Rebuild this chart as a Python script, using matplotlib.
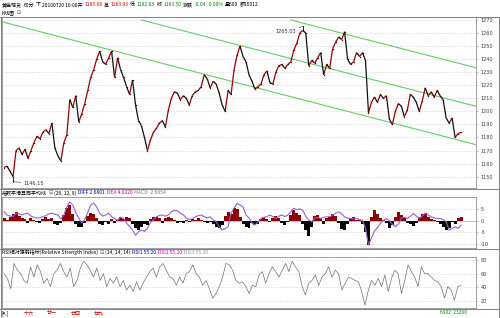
import numpy as np
import matplotlib
matplotlib.use("Agg")
import matplotlib.pyplot as plt
from matplotlib.lines import Line2D
from matplotlib.collections import LineCollection

plt.rcParams['font.family'] = ['Noto Sans CJK SC', 'DejaVu Sans']

# ---------------- data ----------------
closes = [1157, 1158, 1154, 1150, 1170, 1172, 1167, 1171, 1164, 1170,
          1176, 1181, 1179, 1184, 1186, 1183, 1191, 1172, 1166, 1162,
          1176, 1182, 1209, 1203, 1212, 1192, 1198, 1206, 1216, 1226,
          1232, 1240, 1246, 1238, 1236, 1241, 1246, 1226, 1241, 1232,
          1226, 1219, 1213, 1224, 1205, 1193, 1189, 1180, 1170, 1178,
          1184, 1187, 1191, 1193, 1188, 1201, 1210, 1215, 1214, 1209,
          1212, 1210, 1205, 1212, 1215, 1216, 1219, 1228, 1225, 1218,
          1223, 1221, 1214, 1205, 1200, 1216, 1213, 1232, 1243, 1250,
          1242, 1238, 1228, 1223, 1217, 1219, 1221, 1228, 1231, 1222,
          1221, 1230, 1235, 1236, 1233, 1236, 1238, 1247, 1252, 1260,
          1262, 1260, 1235, 1239, 1237, 1241, 1245, 1228, 1236, 1233,
          1248, 1253, 1257, 1255, 1261, 1240, 1236, 1238, 1245, 1242,
          1245, 1239, 1199, 1207, 1211, 1207, 1213, 1210, 1212, 1194,
          1190, 1200, 1206, 1204, 1196, 1201, 1213, 1211, 1207, 1200,
          1208, 1218, 1212, 1215, 1211, 1216, 1212, 1209, 1195, 1191,
          1195, 1180, 1183, 1184]

high_label = 1265.03
low_label = 1146.15

macd_hist = [1.0, 0.5, 1.5, 3.0, 3.8, 2.0, 1.0, 0.8, -0.8, 1.0,
             0.5, -0.5, -1.0, 0.8, 1.5, 0.8, 1.2, -1.5, -1.8, -0.8,
             2.5, 5.5, 7.0, 3.0, -1.5, -2.8, -2.5, -0.8, 2.0, 3.5,
             2.8, 1.2, -1.5, -1.8, -0.5, -1.2, 0.8, -1.0, 0.5, 1.5,
             0.8, 1.8, 1.2, -1.5, -3.0, -3.8, -2.5, -1.5, -2.0, 0.8,
             1.5, 1.8, 1.0, -0.8, 1.2, 1.8, 1.0, 0.5, -0.8, -0.5,
             -1.0, 0.5, -0.6, 0.8, 0.5, 1.0, 0.5, -0.6, -1.0, -0.5,
             -1.5, -2.5, -3.0, -2.0, 2.0, 4.0, 3.0, 5.5, 5.0, 1.5,
             -1.5, -2.5, -3.0, -1.0, -2.0, -1.2, 0.8, 1.8, 0.8, -0.5,
             1.0, 2.2, 1.2, -0.8, -1.8, -0.5, 2.5, 4.5, 3.5, 2.5,
             -1.5, -4.0, -6.5, -2.5, 2.0, 2.5, 1.0, -1.5, 1.2, 1.5,
             2.8, 2.0, -1.0, -3.5, -4.0, -1.5, 1.2, 1.5, 0.5, 0.3,
             -1.5, -5.0, -10.5, 1.5, 4.5, 3.0, 1.2, 0.5, -1.0, -3.2,
             -2.0, 1.5, 4.0, 2.5, 1.0, -0.8, -1.5, -2.2, -1.0, 1.0,
             3.0, 3.5, 1.5, 0.8, 0.5, -0.5, -1.2, -2.5, -4.0, -3.2,
             -0.5, -1.5, 1.0, 1.5]

diff_line = [3.9, 2.5, 2.0, 1.8, 3.3, 3.0, 2.5, 3.0, 3.3, 2.0,
             1.5, 1.2, 1.2, 1.8, 2.2, 3.0, 3.3, 2.8, 2.5, 0.8,
             2.5, 6.0, 8.2, 6.8, 3.5, 1.2, -1.0, 0.5, 3.5, 6.8,
             7.6, 6.0, 3.3, 2.0, 2.5, 3.3, 1.7, 1.0, 0.3, 1.5,
             1.0, -1.0, -2.5, -4.0, -6.2, -4.8, -4.0, -4.6, -3.2, -0.8,
             0.5, 1.7, 2.3, 2.5, 2.0, 2.5, 3.9, 4.5, 4.3, 3.3,
             2.5, 1.2, 0.6, 0.8, 1.7, 2.2, 2.5, 1.8, 1.2, 1.7,
             0.5, -0.4, -2.5, -4.0, -3.5, -2.5, 3.3, 5.5, 7.5, 6.8,
             6.0, 2.5, 1.2, -1.0, -1.8, -0.5, 1.0, 1.5, 1.8, 2.5,
             1.8, 1.0, 2.0, 2.5, 1.8, 2.5, 3.9, 5.4, 4.8, 5.2,
             4.5, 2.0, 0.3, -0.4, 1.2, 1.5, 1.0, 1.5, 1.7, 1.8,
             2.5, 3.2, 3.9, 3.0, 1.7, 1.2, 1.0, 0.8, 1.0, 0.5,
             0.3, -3.3, -10.5, -7.5, -4.5, -3.0, -1.1, 0.2, 1.0, 0.0,
             -1.5, -2.6, -1.5, 1.2, 1.5, 1.0, 2.0, 3.2, 2.0, 1.2,
             2.0, 3.2, 2.5, 1.7, 1.2, 1.0, 1.0, 0.5, -0.4, -4.0,
             -3.3, -2.6, -3.3, -1.9]

rsi = [60, 53, 38, 75, 65, 60, 50, 46, 70, 55,
       73, 63, 46, 53, 41, 60, 65, 75, 63, 55,
       68, 41, 50, 68, 78, 73, 65, 55, 68, 50,
       60, 41, 53, 46, 55, 41, 50, 36, 43, 34,
       48, 36, 46, 55, 63, 68, 55, 70, 75, 65,
       55, 53, 43, 55, 46, 60, 63, 73, 60, 55,
       43, 50, 38, 24, 31, 41, 55, 75, 73, 65,
       50, 46, 48,
       41, 31, 43, 41, 58, 63, 46, 60, 70, 63,
       55, 65, 75, 63, 78, 70, 63, 41, 29, 46,
       50, 58, 43, 55, 60, 70, 55, 65, 60, 36,
       46, 55, 53, 50, 48, 34, 14, 36, 50, 43,
       53, 41, 58, 34, 53, 65, 60, 31, 50, 73,
       63, 55, 41, 70, 60, 60, 55, 50, 48, 41,
       24, 41, 36, 21, 41, 43]

price_ticks = [1150, 1160, 1170, 1180, 1190, 1200, 1210, 1220, 1230, 1240, 1250, 1260, 1270]
macd_ticks = [5, 0, -5, -10]
rsi_ticks = [20, 40, 60, 80]

# trend channel: (start index, start price, end index, end price)
trend_lines = [(-1, 1268.8, 158, 1174.5),
               (46, 1270.0, 158, 1203.9),
               (96, 1270.0, 158, 1233.4)]

lunar_labels = ['十六', '廿一', '廿四', '廿九']

# ---------------- figure ----------------
W, H = 500, 318
fig = plt.figure(figsize=(W / 100, H / 100), dpi=100)
fig.patch.set_facecolor('white')


def box(x0, y0, x1, y1):
    return [x0 / W, 1 - y1 / H, (x1 - x0) / W, (y1 - y0) / H]


def fy(y):
    return 1 - y / H


n = len(closes)
idx = np.arange(n)
xlim = (-0.7, 158)
GRID = '#c8c8c8'
SPINE = '#909090'
TICKC = '#404040'
TFS = 3.6


def style(ax, ticks, labels, ylim):
    ax.set_xlim(*xlim)
    ax.set_ylim(*ylim)
    ax.set_xticks([])
    ax.yaxis.tick_right()
    ax.set_yticks(ticks)
    ax.set_yticklabels(labels, fontsize=TFS, color=TICKC, family='DejaVu Sans')
    ax.tick_params(axis='y', length=1.5, width=0.4, pad=2, colors=SPINE, labelcolor=TICKC)
    for t in ticks:
        ax.axhline(t, color=GRID, lw=0.5, ls=(0, (1, 1.5)), zorder=0)
    for s in ax.spines.values():
        s.set_color(SPINE)
        s.set_linewidth(0.6)


# main price panel
ax = fig.add_axes(box(2, 17, 476, 188))
style(ax, price_ticks, [str(t) for t in price_ticks], (1141.3, 1272.3))
c = np.array(closes, dtype=float)
pts = np.column_stack([idx, c])
segs = np.stack([pts[:-1], pts[1:]], axis=1)
seg_up = c[1:] >= c[:-1]
lc = LineCollection(segs, colors=np.where(seg_up, '#9a0000', '#111111'), linewidths=0.9, zorder=3)
ax.add_collection(lc)
ax.plot(idx, c, ls='none', marker='s', ms=0.9, mew=0, color='#5a0000', zorder=4)
for (i0, p0, i1, p1) in trend_lines:
    ax.plot([i0, i1], [p0, p1], color='#66cc66', lw=0.8, zorder=1)

imax = int(np.argmax(c))
imin = int(np.argmin(c))
ax.plot([imax, imax], [c[imax], high_label], color='black', lw=0.6, zorder=3)
ax.plot([imin, imin], [low_label, c[imin]], color='black', lw=0.6, zorder=3)
ax.annotate(f'{high_label:.2f}', xy=(imax, high_label), xytext=(imax - 2.2, high_label - 3.5),
            fontsize=TFS, color='#303030', ha='right', va='center', family='DejaVu Sans',
            arrowprops=dict(arrowstyle='-', color='#303030', lw=0.4, shrinkA=0, shrinkB=0))
ax.annotate(f'{low_label:.2f}', xy=(imin, low_label), xytext=(imin + 3.5, low_label - 1.5),
            fontsize=TFS, color='#303030', ha='left', va='center', family='DejaVu Sans',
            arrowprops=dict(arrowstyle='-', color='#303030', lw=0.4, shrinkA=0, shrinkB=0))

# MACD panel
ax2 = fig.add_axes(box(2, 197, 476, 248))
style(ax2, macd_ticks, [str(t) for t in macd_ticks], (-11.8, 10.3))
h = np.array(macd_hist)
ax2.bar(idx, h, width=1.0, color=np.where(h >= 0, '#8b0000', 'black'), lw=0, zorder=2)
ax2.plot(idx, diff_line, color='#9a5fd0', lw=0.8, zorder=3)
ax2.axhline(0, color='#a0a0a0', lw=0.4, zorder=1)

# RSI panel
ax3 = fig.add_axes(box(2, 257, 476, 308))
style(ax3, rsi_ticks, [str(t) for t in rsi_ticks], (9.7, 84.4))
ax3.plot(np.linspace(0, n - 1, len(rsi)), rsi, color='#707070', lw=0.5, zorder=2)

# ---------------- texts ----------------
renderer = fig.canvas.get_renderer()


def seq_text(x, y, parts, fs=TFS, gap=1.6):
    for s, col in parts:
        t = fig.text(x / W, fy(y), s, color=col, fontsize=fs, va='center', ha='left')
        bb = t.get_window_extent(renderer)
        x += bb.width + gap
    return x


RED = '#d00000'
GRN = '#008800'
seq_text(2, 5, [('黄金现货', 'black'), ('60分', 'black'), ('下', 'black'),
                ('20100720 16:00开', 'black'), ('1183.68', RED), ('高', 'black'), ('1183.93', RED),
                ('低', 'black'), ('1182.83', GRN), ('收', 'black'), ('1183.50', GRN),
                ('涨跌', 'black'), ('-0.04', GRN), ('-0.00%', GRN), ('量600', 'black'), ('额10012', 'black')])
seq_text(2, 13, [('K线图', 'black'), ('⊟', '#606060')])

seq_text(2, 193, [('指数平滑异同平均线', 'black'), ('⊟', '#606060'), ('(26, 12, 9)', 'black'),
                  ('DIFF 2.6801', '#000090'), ('DEA 4.0220', '#c000c0'), ('MACD -2.6854', '#808080')])
seq_text(2, 252.5, [('RSI相对强弱指标(Relative Strength Index)', 'black'), ('⊟', '#606060'),
                    ('(14, 14, 14)', 'black'), ('RSI1 55.20', '#000090'), ('RSI2 55.20', '#c000c0'),
                    ('RSI3 55.20', '#909090')])

fig.text(2 / W, fy(313), '[▾,]', fontsize=TFS, color='black', va='center', ha='left')
for xp, lab in zip([24, 47, 71, 94], lunar_labels):
    fig.text(xp / W, fy(313), lab, fontsize=TFS, color=RED, va='center', ha='left')
fig.text(440 / W, fy(313), '6902  23260', fontsize=TFS, color=GRN, va='center', ha='left')

# panel separators and frame
for yy in [16.5, 189, 249, 309]:
    fig.add_artist(Line2D([0, 1], [fy(yy), fy(yy)], color='#808080', lw=0.7))
fig.add_artist(Line2D([0.5 / W, 0.5 / W], [fy(16.5), fy(317)], color='#808080', lw=0.7))
fig.add_artist(Line2D([499 / W, 499 / W], [fy(16.5), fy(317)], color='#808080', lw=0.7))
fig.add_artist(Line2D([0, 1], [fy(317.5), fy(317.5)], color='#808080', lw=0.7))

fig.savefig('out.png', dpi=100, facecolor='white')
